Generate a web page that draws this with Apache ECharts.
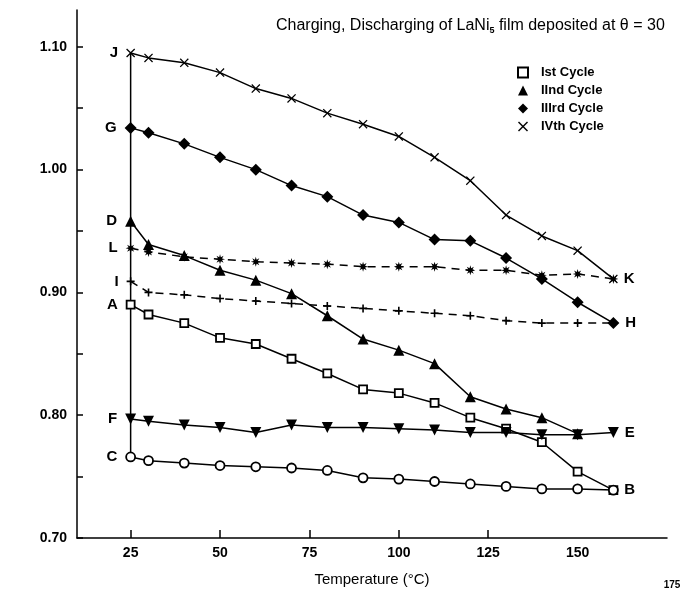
<!DOCTYPE html>
<html>
<head>
<meta charset="utf-8">
<script src="https://cdn.jsdelivr.net/npm/echarts@6/dist/echarts.min.js"></script>
<style>html,body{margin:0;padding:0;background:#fff}#c{width:686px;height:592px}</style>
</head>
<body>
<div id="c"></div>
<script>
// Temperatures (°C)
var temps = [25, 30, 40, 50, 60, 70, 80, 90, 100, 110, 120, 130, 140, 150, 160];
var tempsD = [25, 30, 40, 50, 60, 70, 80, 90, 100, 110, 120, 130, 140, 150];
// Ist cycle: A -> B (open squares), C -> B (open circles)
var cycle1A = [0.890, 0.882, 0.875, 0.863, 0.858, 0.846, 0.834, 0.821, 0.818, 0.810, 0.798, 0.789, 0.778, 0.754, 0.739];
var cycle1C = [0.766, 0.763, 0.761, 0.759, 0.758, 0.757, 0.755, 0.749, 0.748, 0.746, 0.744, 0.742, 0.740, 0.740, 0.739];
// IInd cycle: D -> (triangles), F -> E (inverted triangles)
var cycle2D = [0.958, 0.939, 0.930, 0.918, 0.910, 0.899, 0.881, 0.862, 0.853, 0.842, 0.815, 0.805, 0.798, 0.785];
var cycle2F = [0.797, 0.795, 0.792, 0.790, 0.786, 0.792, 0.790, 0.790, 0.789, 0.788, 0.786, 0.786, 0.784, 0.784, 0.786];
// IIIrd cycle: G -> H (diamonds), I -> H (plus, dashed)
var cycle3G = [1.034, 1.030, 1.021, 1.010, 1.000, 0.987, 0.978, 0.963, 0.957, 0.943, 0.942, 0.928, 0.911, 0.892, 0.875];
var cycle3I = [0.909, 0.900, 0.898, 0.895, 0.893, 0.891, 0.889, 0.887, 0.885, 0.883, 0.881, 0.877, 0.875, 0.875, 0.875];
// IVth cycle: J -> K (crosses), L -> K (asterisks, dashed)
var cycle4J = [1.095, 1.091, 1.087, 1.079, 1.066, 1.058, 1.046, 1.037, 1.027, 1.010, 0.991, 0.963, 0.946, 0.934, 0.911];
var cycle4L = [0.936, 0.933, 0.929, 0.927, 0.925, 0.924, 0.923, 0.921, 0.921, 0.921, 0.918, 0.918, 0.914, 0.915, 0.911];

var xTickLabels = [25, 50, 75, 100, 125, 150, 175];
var yTickLabels = [0.70, 0.80, 0.90, 1.00, 1.10];
var yTicks = [0.70, 0.75, 0.80, 0.85, 0.90, 0.95, 1.00, 1.05, 1.10];
var legendNames = ['Ist Cycle', 'IInd Cycle', 'IIIrd Cycle', 'IVth Cycle'];

var X_PATH = 'path://M0,1 L1,0 L5,4 L9,0 L10,1 L6,5 L10,9 L9,10 L5,6 L1,10 L0,9 L4,5 Z';
var PLUS_PATH = 'path://M4,0H6V4H10V6H6V10H4V6H0V4H4Z';
var STAR_PATH = 'path://M10,5 L7.03,5.84 L8.54,8.54 L5.84,7.03 L5,10 L4.16,7.03 L1.46,8.54 L2.97,5.84 L0,5 L2.97,4.16 L1.46,1.46 L4.16,2.97 L5,0 L5.84,2.97 L8.54,1.46 L7.03,4.16 Z';

var labelFont = {fontFamily: 'Liberation Sans', fontSize: 15, fontWeight: 'bold', color: '#000'};

function build(xs, ys, startLetter, endLetter) {
  return xs.map(function (t, i) {
    var item = {value: [t, ys[i]]};
    if (i === 0 && startLetter) {
      item.label = Object.assign({show: true, position: 'left', distance: 8, formatter: startLetter}, labelFont);
    }
    if (i === xs.length - 1 && endLetter) {
      item.label = Object.assign({show: true, position: 'right', distance: 6, formatter: endLetter}, labelFont);
    }
    return item;
  });
}

function lineSeries(name, data, symbol, size, opts) {
  var s = {
    name: name, type: 'line', data: data, symbol: symbol, symbolSize: size,
    showAllSymbol: true, animation: false,
    lineStyle: {color: '#000', width: 1.5, type: (opts && opts.dashed) ? [8, 6] : 'solid'},
    itemStyle: {color: (opts && opts.hollow) ? '#fff' : '#000', borderColor: '#000', borderWidth: (opts && opts.hollow) ? 1.8 : 0},
    emphasis: {disabled: true},
    z: 3
  };
  if (opts && opts.rotate) s.symbolRotate = opts.rotate;
  return s;
}

var chart = echarts.init(document.getElementById('c'), null, {renderer: 'canvas'});
chart.setOption({
  backgroundColor: '#fff',
  animation: false,
  title: {
    text: '{a|Charging, Discharging of LaNi}{s|5}{a| film deposited at θ = 30}',
    left: 271, top: 11,
    textStyle: {
      fontWeight: 'normal',
      rich: {
        a: {fontFamily: 'Liberation Sans', fontSize: 16, fontWeight: 'normal', color: '#000'},
        s: {fontFamily: 'Liberation Sans', fontSize: 9, fontWeight: 'bold', color: '#000', padding: [10, 0, 0, 0]}
      }
    }
  },
  legend: {
    orient: 'vertical', left: 512, top: 61, itemGap: 5, itemWidth: 10, itemHeight: 10,
    textStyle: {fontFamily: 'Liberation Sans', fontSize: 13, fontWeight: 'bold', color: '#000', padding: [0, 0, 0, 8]},
    data: [
      {name: legendNames[0], icon: 'rect', itemStyle: {color: '#fff', borderColor: '#000', borderWidth: 2}},
      {name: legendNames[1], icon: 'triangle', itemStyle: {color: '#000'}},
      {name: legendNames[2], icon: 'diamond', itemStyle: {color: '#000'}},
      {name: legendNames[3], icon: X_PATH, itemStyle: {color: '#000'}}
    ],
    selectedMode: false
  },
  grid: {left: 77, right: 19, top: 10, bottom: 54, containLabel: false, outerBoundsMode: 'none'},
  xAxis: {
    type: 'value', min: 10, max: 175,
    name: 'Temperature (°C)', nameLocation: 'middle', nameGap: 34, nameMoveOverlap: false,
    nameTextStyle: {fontFamily: 'Liberation Sans', fontSize: 15, color: '#000'},
    axisLine: {show: true, lineStyle: {color: '#000', width: 1.5}},
    axisTick: {show: true, inside: true, length: 8, customValues: [25, 50, 75, 100, 125], lineStyle: {color: '#000', width: 1.5}},
    axisLabel: {
      customValues: xTickLabels, margin: 8, color: '#000',
      fontFamily: 'Liberation Sans', fontSize: 14, fontWeight: 'bold',
      formatter: function (v) { return v === 175 ? '{s|175}' : String(v); },
      rich: {s: {fontFamily: 'Liberation Sans', fontSize: 10, color: '#000', padding: [34, 0, 0, 10]}}
    },
    splitLine: {show: false}
  },
  yAxis: {
    type: 'value', min: 0.70, max: 1.13,
    axisLine: {show: true, lineStyle: {color: '#000', width: 1.5}},
    axisTick: {show: true, inside: true, length: 6, customValues: yTicks, lineStyle: {color: '#000', width: 1.5}},
    axisLabel: {
      customValues: yTickLabels, margin: 10, color: '#000',
      fontFamily: 'Liberation Sans', fontSize: 14, fontWeight: 'bold',
      formatter: function (v) { return v.toFixed(2); }
    },
    splitLine: {show: false}
  },
  series: [
    {
      name: 'vertical', type: 'line', symbol: 'none', animation: false,
      data: [[temps[0], cycle1C[0]], [temps[0], cycle4J[0]]],
      lineStyle: {color: '#000', width: 1.5}, z: 2, emphasis: {disabled: true}
    },
    lineSeries(legendNames[0], build(temps, cycle1A, 'A', 'B'), 'rect', 8, {hollow: true}),
    lineSeries('Ist discharge', build(temps, cycle1C, 'C', null), 'circle', 9, {hollow: true}),
    lineSeries(legendNames[1], build(tempsD, cycle2D, 'D', null), 'triangle', 11),
    lineSeries('IInd discharge', build(temps, cycle2F, 'F', 'E'), 'triangle', 11, {rotate: 180}),
    lineSeries(legendNames[2], build(temps, cycle3G, 'G', 'H'), 'diamond', 12),
    lineSeries('IIIrd discharge', build(temps, cycle3I, 'I', null), PLUS_PATH, 8, {dashed: true}),
    lineSeries(legendNames[3], build(temps, cycle4J, 'J', 'K'), X_PATH, 9),
    lineSeries('IVth discharge', build(temps, cycle4L, 'L', null), STAR_PATH, 10, {dashed: true})
  ]
});
</script>
</body>
</html>
